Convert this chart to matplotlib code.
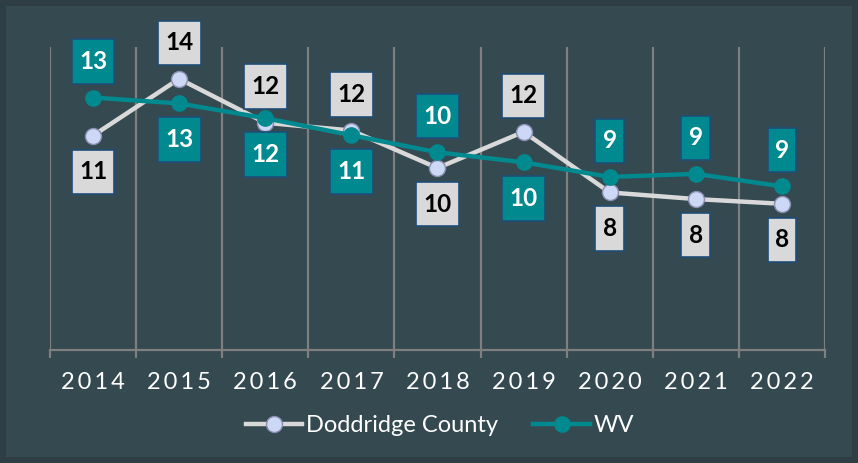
import matplotlib
matplotlib.use("Agg")
import matplotlib.pyplot as plt
from matplotlib.patches import Rectangle
from matplotlib.path import Path

# values (labels show rounded numbers)
years = ["2014", "2015", "2016", "2017", "2018", "2019", "2020", "2021", "2022"]
doddridge = [11.32, 14.32, 12.0, 11.59, 9.61, 11.52, 8.32, 7.97, 7.72]
wv = [13.33, 13.02, 12.24, 11.34, 10.44, 9.91, 9.14, 9.30, 8.64]
# label side for each point: 1 above, -1 below
doddridge_side = [-1, 1, 1, 1, -1, 1, -1, -1, -1]
wv_side = [1, -1, -1, -1, 1, -1, 1, 1, 1]

bg_outer = "#2f3e44"
bg_inner = "#344950"
teal = "#00898e"
grey_line = "#d9d9d9"
marker_face = "#ccd8f5"
box_edge = "#1f4e79"

plt.rcParams["font.family"] = ["Lato", "DejaVu Sans"]


def label_box(x0, y0, width, height, mutation_size):
    # data label boxes are taller than a plain square pad gives
    px = 0.30 * mutation_size
    py = 0.44 * mutation_size
    x0, x1 = x0 - px, x0 + width + px
    y0, y1 = y0 - py, y0 + height + py
    return Path([(x0, y0), (x1, y0), (x1, y1), (x0, y1), (x0, y0)], closed=True)


fig = plt.figure(figsize=(8.58, 4.63), dpi=100)
fig.patch.set_facecolor(bg_outer)
fig.patches.append(Rectangle((6 / 858, 6 / 463), 1 - 12 / 858, 1 - 12 / 463,
                             transform=fig.transFigure, facecolor=bg_inner,
                             edgecolor="none", zorder=-5))

ax = fig.add_axes([50 / 858, 1 - 350 / 463, 775 / 858, 303 / 463])
ax.set_zorder(2)
ax.set_facecolor("none")
x = list(range(len(years)))

ax.set_xlim(-0.5, len(years) - 0.5)
ax.set_ylim(0, 16)

for b in range(len(years) + 1):
    ax.axvline(b - 0.5, color="#7f7f7f", lw=1.6, zorder=1)

ax.plot(x, doddridge, color=grey_line, lw=3.2, marker="o", ms=11.5,
        mfc=marker_face, mec="#8a8fb0", mew=1.0, zorder=3,
        label="Doddridge County")
ax.plot(x, wv, color=teal, lw=3.2, marker="o", ms=11, mfc=teal, mec=teal,
        zorder=4, label="WV")


def add_labels(vals, sides, face, txt_color):
    for xi, v, s in zip(x, vals, sides):
        ax.annotate(str(round(v)), (xi, v), xytext=(0, 26 * s),
                    textcoords="offset points", ha="center", va="center",
                    fontsize=17.5, fontweight="bold", color=txt_color, zorder=6,
                    bbox=dict(boxstyle=label_box, facecolor=face,
                              edgecolor=box_edge, lw=1.2))


add_labels(doddridge, doddridge_side, "#d9d9d9", "black")
add_labels(wv, wv_side, teal, "white")

ax.set_yticks([])
ax.set_xticks(x)
# Excel draws the years with extra letter spacing
ax.set_xticklabels(["\u2009".join(y) for y in years], color="white", fontsize=17)
ax.set_xticks([b - 0.5 for b in range(len(years) + 1)], minor=True)
ax.tick_params(axis="x", which="major", length=0, pad=16)
ax.tick_params(axis="x", which="minor", length=6, width=1.6, color="#7f7f7f")
for side in ["top", "left", "right"]:
    ax.spines[side].set_visible(False)
ax.spines["bottom"].set_color("#7f7f7f")
ax.spines["bottom"].set_linewidth(1.6)

fig.legend(loc="center", bbox_to_anchor=(440 / 858, 1 - 426 / 463), ncol=2,
           frameon=False, fontsize=17, labelcolor="white", handlelength=2.4,
           columnspacing=1.5, handletextpad=0.15)

fig.savefig("out.png", dpi=100, facecolor=fig.get_facecolor())
